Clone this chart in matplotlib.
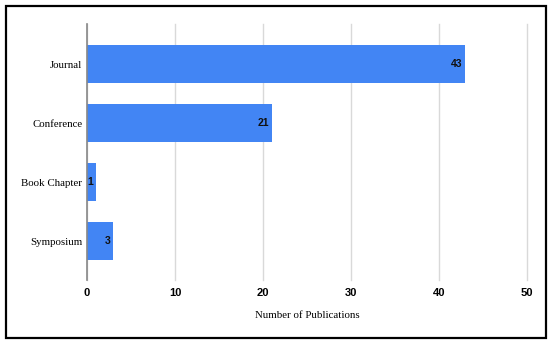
import matplotlib
matplotlib.use("Agg")
import matplotlib.pyplot as plt
from matplotlib.patches import Rectangle

categories = ["Journal", "Conference", "Book Chapter", "Symposium"]
values = [43, 21, 1, 3]
xticks = [0, 10, 20, 30, 40, 50]

fig = plt.figure(figsize=(5.5, 3.45), dpi=100)
ax = fig.add_axes([87/550, 1-280/345, 440/550, 256/345])

pos = list(range(len(categories)))
bars = ax.barh(pos, values, height=0.65, color="#4285F4", zorder=3)
ax.set_ylim(3.66, -0.68)
ax.set_xlim(0, 50)
ax.set_xticks(xticks)
ax.set_xticklabels([str(t) for t in xticks], fontfamily="Liberation Sans",
                   fontweight="bold", fontsize=8)
ax.set_yticks(pos)
ax.set_yticklabels(categories, fontfamily="Liberation Serif", fontsize=7.8)
ax.tick_params(axis="both", length=0)
ax.tick_params(axis="x", pad=6)
ax.tick_params(axis="y", pad=3.5)
ax.grid(axis="x", color="#d9d9d9", linewidth=1, zorder=0)
for gl in ax.get_xgridlines():
    gl.set_clip_on(False)
for s in ["top", "right", "bottom"]:
    ax.spines[s].set_visible(False)
ax.spines["left"].set_color("#888888")
ax.spines["left"].set_linewidth(1.2)
ax.spines["left"].set_zorder(4)

for b, v in zip(bars, values):
    ax.text(v - 0.3, b.get_y() + b.get_height()/2, str(v), ha="right", va="center",
            fontfamily="Liberation Sans", fontweight="bold", fontsize=7.5, color="#111111",
            zorder=5)

ax.set_xlabel("Number of Publications", fontfamily="Liberation Serif", fontsize=7.8, labelpad=9)

fig.patches.append(Rectangle((6/550, 1-338/345), 540/550, 332/345, transform=fig.transFigure,
                             fill=False, edgecolor="black", linewidth=1.6))

fig.savefig("out.png", dpi=100)
